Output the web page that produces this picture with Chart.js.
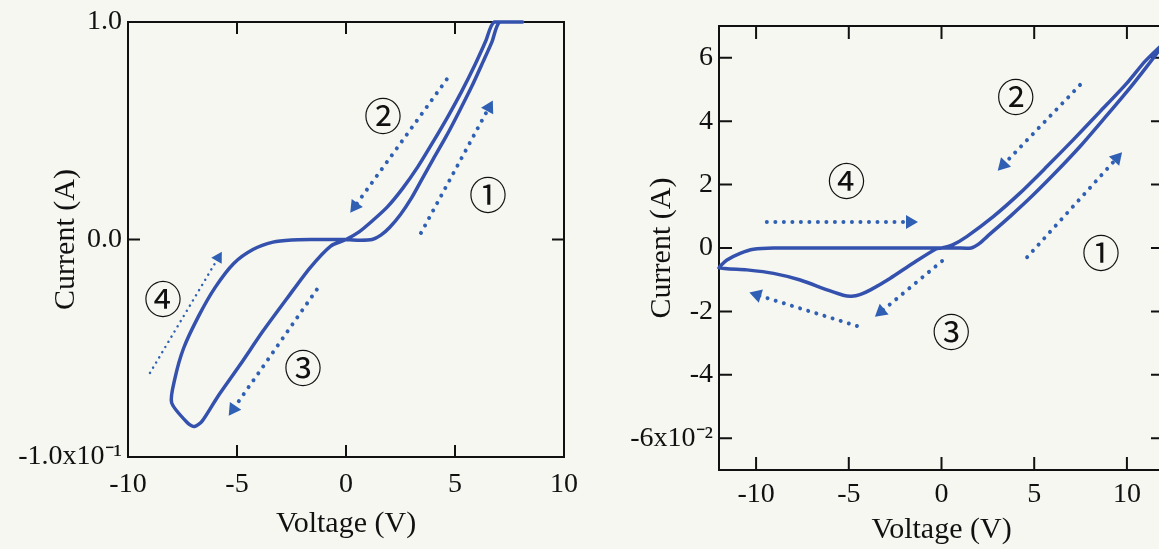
<!DOCTYPE html>
<html>
<head>
<meta charset="utf-8">
<script src="https://cdn.jsdelivr.net/npm/chart.js@4.4.0/dist/chart.umd.min.js"></script>
<style>
html, body { margin:0; padding:0; width:1159px; height:549px; overflow:hidden; background:#f6f7f1; }
#left { position:absolute; left:0; top:0; }
#right { position:absolute; left:580px; top:0; }
</style>
</head>
<body>
<canvas id="left" width="580" height="549"></canvas>
<canvas id="right" width="600" height="549"></canvas>
<script>
// ---- left panel: one sweep 0 -> +8 V -> 0 -> -8 V -> 0
var leftCurveV = [0,0.6,1.2,1.6,2.0,2.5,3.0,3.5,4.0,4.6,5.2,5.8,6.3,6.7,7.05,8.1,
	6.8,6.4,5.9,5.3,4.7,4.0,3.3,2.6,1.9,1.2,0.6,0,
	-0.7,-1.65,-2.7,-3.8,-4.85,-5.9,-6.6,-6.95,-7.25,-8.0,
	-7.85,-7.45,-6.75,-6.0,-5.15,-4.25,-3.35,-2.5,-1.5,-0.5,0];
var leftCurveI = [0,-0.003,0,0.02,0.055,0.115,0.19,0.28,0.37,0.475,0.59,0.71,0.82,0.91,1.0,1.0,
	1.0,0.91,0.8,0.68,0.57,0.45,0.335,0.235,0.15,0.085,0.035,0,
	-0.03,-0.13,-0.27,-0.42,-0.575,-0.725,-0.835,-0.86,-0.845,-0.75,
	-0.64,-0.5,-0.35,-0.22,-0.11,-0.045,-0.012,-0.002,0,0,0];
var leftVTicks = [-10,-5,0,5,10];
var leftITicks = [-1,0,1];
var leftILabels = ['-1.0x10\u207B\u00B9','0.0','1.0'];
// dotted arrows: [fromV, fromI, toV, toI]
var leftArrows = [[3.44,0.03,6.56,0.607],[4.62,0.736,0.41,0.153],[-1.34,-0.23,-5.17,-0.78],[-8.99,-0.613,-5.86,-0.084]];
var leftMarks = ['\u2460','\u2461','\u2462','\u2463'];
var leftMarkV = [6.51,1.70,-1.97,-8.39];
var leftMarkI = [0.207,0.572,-0.587,-0.273];

// ---- right panel: sweep 0 -> +12 V -> 0 -> -12 V -> 0
var rightCurveV = [0,0.8,1.6,2.0,2.46,3.69,4.94,6.2,7.47,8.71,10.0,11.07,12,
	11.0,10.0,8.55,7.1,5.67,4.23,2.79,1.36,0.6,0,
	-0.3,-1.54,-2.78,-3.83,-4.4,-4.85,-5.3,-6.17,-7.62,-9.06,-10.5,-12,
	-11.57,-10.86,-10.14,-9.06,-5,-1,0];
var rightCurveI = [0,0,0,0.12,0.36,0.99,1.67,2.41,3.2,4.04,4.93,5.72,6.45,
	5.9,5.2,4.3,3.41,2.56,1.73,0.99,0.36,0.1,0,
	-0.03,-0.48,-0.96,-1.32,-1.47,-1.52,-1.49,-1.32,-1.01,-0.8,-0.69,-0.62,
	-0.38,-0.17,-0.04,0,0,0,0];
var rightVTicks = [-10,-5,0,5,10];
var rightITicks = [-6,-4,-2,0,2,4,6];
var rightILabels = ['-6x10\u207B\u00B2','-4','-2','0','2','4','6'];
var rightArrows = [[4.62,-0.29,9.45,2.83],[7.47,5.14,3.33,2.62],[0.03,-0.41,-3.26,-2.01],[-9.42,0.82,-1.7,0.82],[-4.56,-2.46,-9.95,-1.48]];
var rightMarks = ['\u2460','\u2461','\u2462','\u2463'];
var rightMarkV = [8.6,4.0,0.52,-5.13];
var rightMarkI = [-0.13,4.79,-2.62,2.14];

var ink = '#111111';
var curveBlue = '#3451ad';
var dotBlue = '#2f60b4';
var serif = "'Liberation Serif', 'Times New Roman', serif";

function toPoints(xs, ys){
	return xs.map(function(v, i){ return {x: v, y: ys[i]}; });
}

function arrowAngle(c){
	var d = c.dataset.data, sx = c.chart.scales.x, sy = c.chart.scales.y;
	var dx = sx.getPixelForValue(d[1].x) - sx.getPixelForValue(d[0].x);
	var dy = sy.getPixelForValue(d[1].y) - sy.getPixelForValue(d[0].y);
	return Math.atan2(dy, dx) * 180 / Math.PI + 90;
}

// box and inward tick marks under the curves, circled numbers on top
var framePlugin = {
	id: 'frame',
	beforeDatasetsDraw: function(chart, args, o){
		var ctx = chart.ctx, a = chart.chartArea, sx = chart.scales.x, sy = chart.scales.y;
		ctx.save();
		ctx.strokeStyle = ink;
		ctx.lineWidth = 2;
		ctx.strokeRect(a.left, a.top, a.right - a.left, a.bottom - a.top);
		ctx.beginPath();
		sx.ticks.forEach(function(t){
			var p = sx.getPixelForValue(t.value);
			ctx.moveTo(p, a.top); ctx.lineTo(p, a.top + o.tick);
			ctx.moveTo(p, a.bottom); ctx.lineTo(p, a.bottom - o.tick);
		});
		sy.ticks.forEach(function(t){
			var p = sy.getPixelForValue(t.value);
			ctx.moveTo(a.left, p); ctx.lineTo(a.left + o.tick, p);
			ctx.moveTo(a.right, p); ctx.lineTo(a.right - o.tick, p);
		});
		ctx.stroke();
		ctx.restore();
	},
	afterDraw: function(chart, args, o){
		var ctx = chart.ctx, sx = chart.scales.x, sy = chart.scales.y;
		ctx.save();
		ctx.fillStyle = ink;
		ctx.font = "38px 'Noto Sans CJK JP', 'DejaVu Sans', sans-serif";
		ctx.textAlign = 'center';
		ctx.textBaseline = 'middle';
		o.marks.forEach(function(m, i){
			ctx.fillText(m, sx.getPixelForValue(o.markV[i]), sy.getPixelForValue(o.markI[i]));
		});
		ctx.restore();
	}
};

function makePanel(id, p){
	var datasets = [{
		data: toPoints(p.curveV, p.curveI),
		showLine: true,
		borderColor: curveBlue,
		borderWidth: 3.5,
		pointRadius: 0,
		tension: 0.25,
		clip: 6
	}];
	p.arrows.forEach(function(ar, i){
		var fine = p.fineArrow === i;
		datasets.push({
			data: [{x: ar[0], y: ar[1]}, {x: ar[2], y: ar[3]}],
			showLine: true,
			borderColor: dotBlue,
			backgroundColor: dotBlue,
			borderWidth: fine ? 2.5 : 4,
			borderDash: fine ? [0.01, 6] : [0.01, 8.5],
			borderCapStyle: 'round',
			pointStyle: 'triangle',
			pointRadius: function(c){ return c.dataIndex === 1 ? (fine ? 7 : 8) : 0; },
			pointRotation: arrowAngle,
			pointBorderWidth: 0,
			clip: false
		});
	});
	return new Chart(document.getElementById(id), {
		type: 'scatter',
		data: { datasets: datasets },
		plugins: [framePlugin],
		options: {
			responsive: false,
			animation: false,
			devicePixelRatio: 1,
			layout: { padding: { left: 0, top: p.top, right: p.right, bottom: 0 } },
			plugins: {
				legend: { display: false },
				tooltip: { enabled: false },
				frame: { tick: p.tick, marks: p.marks, markV: p.markV, markI: p.markI }
			},
			scales: {
				x: {
					type: 'linear', min: p.xMin, max: p.xMax,
					afterBuildTicks: function(s){ s.ticks = p.xTicks.map(function(v){ return {value: v}; }); },
					afterFit: function(s){ s.height = p.xHeight; s.paddingLeft = 0; s.paddingRight = 0; },
					grid: { display: false, drawTicks: false },
					border: { display: false },
					ticks: { color: ink, font: { family: serif, size: 28 }, padding: p.xPad, maxRotation: 0, autoSkip: false,
						callback: function(v){ return String(v); } },
					title: { display: true, text: 'Voltage (V)', color: ink, font: { family: serif, size: 30 },
						padding: { top: 0, bottom: p.xTitlePad } }
				},
				y: {
					type: 'linear', min: p.yMin, max: p.yMax,
					afterBuildTicks: function(s){ s.ticks = p.yTicks.map(function(v){ return {value: v}; }); },
					afterFit: function(s){ s.width = p.yWidth; s.paddingTop = 0; s.paddingBottom = 0; },
					grid: { display: false, drawTicks: false },
					border: { display: false },
					ticks: { color: ink, font: { family: serif, size: 28 }, padding: 6, autoSkip: false,
						callback: function(v){ return p.yLabels[p.yTicks.indexOf(v)]; } },
					title: { display: true, text: 'Current (A)', color: ink, font: { family: serif, size: 30 },
						padding: { top: p.yTitlePad, bottom: 0 } }
				}
			}
		}
	});
}

makePanel('left', {
	curveV: leftCurveV, curveI: leftCurveI, arrows: leftArrows, fineArrow: 3,
	marks: leftMarks, markV: leftMarkV, markI: leftMarkI,
	xMin: -10, xMax: 10, yMin: -1, yMax: 1,
	xTicks: leftVTicks, yTicks: leftITicks, yLabels: leftILabels,
	top: 22, right: 16, xHeight: 92, yWidth: 128,
	xPad: 11, xTitlePad: 7, yTitlePad: 48, tick: 12
});

makePanel('right', {
	curveV: rightCurveV, curveI: rightCurveI, arrows: rightArrows, fineArrow: -1,
	marks: rightMarks, markV: rightMarkV, markI: rightMarkI,
	xMin: -12, xMax: 12, yMin: -7, yMax: 7,
	xTicks: rightVTicks, yTicks: rightITicks, yLabels: rightILabels,
	top: 26, right: 16, xHeight: 79, yWidth: 139,
	xPad: 8, xTitlePad: 1, yTitlePad: 64, tick: 13
});
</script>
</body>
</html>
